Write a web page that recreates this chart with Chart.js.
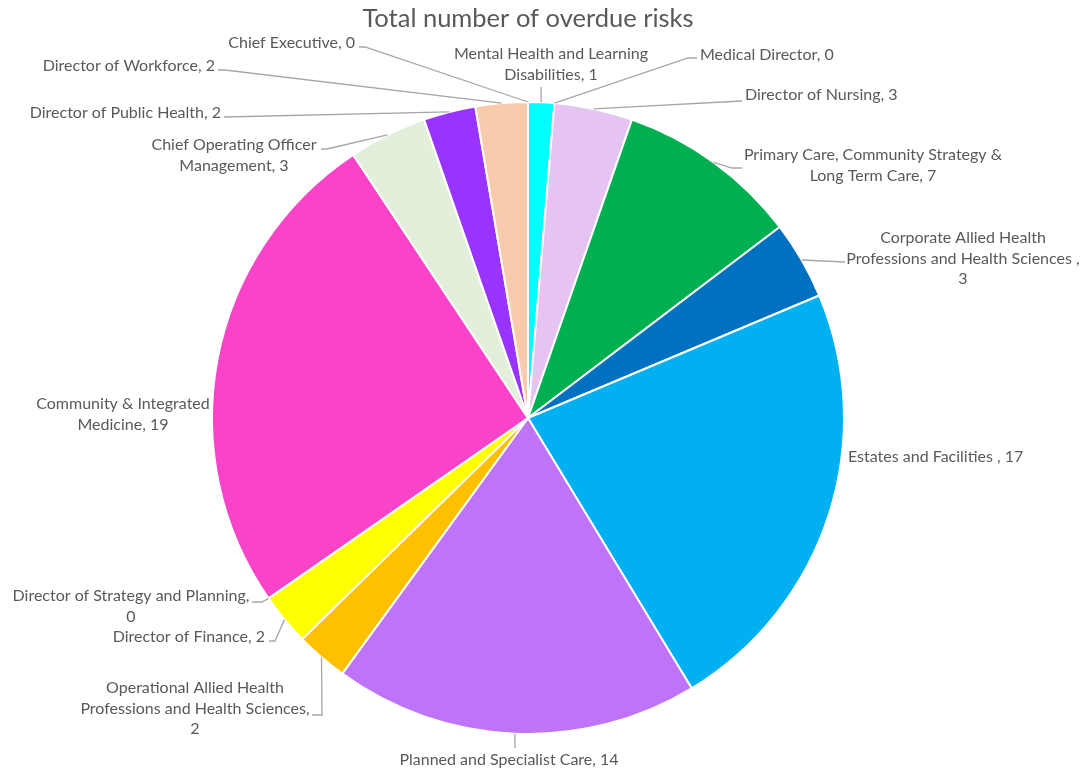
<!DOCTYPE html>
<html>
<head>
<meta charset="utf-8">
<title>Total number of overdue risks</title>
<script src="https://cdn.jsdelivr.net/npm/chart.js@4.4.1/dist/chart.umd.min.js"></script>
<style>
  html, body { margin: 0; padding: 0; background: #ffffff; }
  canvas { display: block; }
</style>
</head>
<body>
<canvas id="overdueRisks" width="1081" height="770"></canvas>
<script>
const chartTitle = 'Total number of overdue risks';

const categories = [
    'Mental Health and Learning Disabilities',
    'Medical Director',
    'Director of Nursing',
    'Primary Care, Community Strategy & Long Term Care',
    'Corporate Allied Health Professions and Health Sciences ',
    'Estates and Facilities ',
    'Planned and Specialist Care',
    'Operational Allied Health Professions and Health Sciences',
    'Director of Finance',
    'Director of Strategy and Planning',
    'Community & Integrated Medicine',
    'Chief Operating Officer Management',
    'Director of Public Health',
    'Director of Workforce',
    'Chief Executive'
];

const overdueCounts = [1, 0, 3, 7, 3, 17, 14, 2, 2, 0, 19, 3, 2, 2, 0];

const sliceColours = [
    '#00ffff', '#a5a5a5', '#e6c4f2', '#00b050', '#0070c0',
    '#00b0f0', '#bf74f8', '#ffc000', '#ffff00', '#7f7f7f',
    '#f944c9', '#e2efda', '#9933ff', '#f8cbad', '#5b9bd5'
];

// where each data label sits: anchor of the first line, alignment,
// words per wrapped line, and the bends of its leader line
const labelLayout = [
    { x: 551, y: 54,  align: 'center', words: [4],    leader: [[541, 87]] },
    { x: 700, y: 55,  align: 'left',   words: [],     leader: [[688, 58], [697, 58]] },
    { x: 745, y: 95,  align: 'left',   words: [],     leader: [[742, 101]] },
    { x: 873, y: 155, align: 'center', words: [5],    leader: [[732, 168], [742, 168]] },
    { x: 963, y: 238, align: 'center', words: [3, 5], leader: [[845, 262]] },
    { x: 848, y: 457, align: 'left',   words: [],     leader: null },
    { x: 509, y: 760, align: 'center', words: [],     leader: [[515, 748]] },
    { x: 195, y: 688, align: 'center', words: [3, 4], leader: [[322, 715], [312, 715]] },
    { x: 265, y: 637, align: 'right',  words: [],     leader: [[275, 641], [269, 641]] },
    { x: 131, y: 596, align: 'center', words: [5],    leader: [[262, 602], [252, 602]] },
    { x: 123, y: 404, align: 'center', words: [3],    leader: null },
    { x: 234, y: 145, align: 'center', words: [3],    leader: [[327, 149], [321, 149]] },
    { x: 221, y: 113, align: 'right',  words: [],     leader: [[224, 117]] },
    { x: 215, y: 66,  align: 'right',  words: [],     leader: [[225, 70], [218, 70]] },
    { x: 355, y: 43,  align: 'right',  words: [],     leader: [[365, 47], [359, 47]] }
];

const labelFont = '16px Lato';
const textColour = '#595959';

function wrapLabel(text, words) {
    const parts = text.split(' ');
    const lines = [];
    let pos = 0;
    words.forEach(n => {
        lines.push(parts.slice(pos, pos + n).join(' '));
        pos += n;
    });
    if (pos < parts.length) lines.push(parts.slice(pos).join(' '));
    return lines;
}

const outsideLabels = {
    id: 'outsideLabels',
    afterDraw(chart) {
        const ctx = chart.ctx;
        const arcs = chart.getDatasetMeta(0).data;
        ctx.save();

        ctx.fillStyle = textColour;
        ctx.font = '25.5px Lato';
        ctx.textAlign = 'center';
        ctx.textBaseline = 'middle';
        ctx.fillText(chartTitle, 528, 19);

        ctx.strokeStyle = '#a6a6a6';
        ctx.lineWidth = 1.3;
        ctx.font = labelFont;

        arcs.forEach((arc, i) => {
            const place = labelLayout[i];
            const { x, y, startAngle, endAngle, outerRadius } =
                arc.getProps(['x', 'y', 'startAngle', 'endAngle', 'outerRadius'], true);
            const mid = (startAngle + endAngle) / 2;

            if (place.leader) {
                ctx.beginPath();
                ctx.moveTo(x + Math.cos(mid) * outerRadius, y + Math.sin(mid) * outerRadius);
                place.leader.forEach(p => ctx.lineTo(p[0], p[1]));
                ctx.stroke();
            }

            const text = categories[i] + ', ' + chart.data.datasets[0].data[i];
            const lines = wrapLabel(text, place.words);
            ctx.textAlign = place.align;
            lines.forEach((line, k) => {
                ctx.fillText(line, place.x, place.y + k * 20.5);
            });
        });
        ctx.restore();
    }
};

new Chart(document.getElementById('overdueRisks').getContext('2d'), {
    type: 'pie',
    data: {
        labels: categories,
        datasets: [{
            data: overdueCounts,
            backgroundColor: sliceColours,
            borderColor: '#ffffff',
            borderWidth: 2
        }]
    },
    options: {
        responsive: false,
        animation: false,
        events: [],
        layout: {
            padding: { top: 101, bottom: 35, left: 211, right: 236 }
        },
        plugins: {
            legend: { display: false },
            title: { display: false },
            tooltip: { enabled: false }
        }
    },
    plugins: [outsideLabels]
});
</script>
</body>
</html>
